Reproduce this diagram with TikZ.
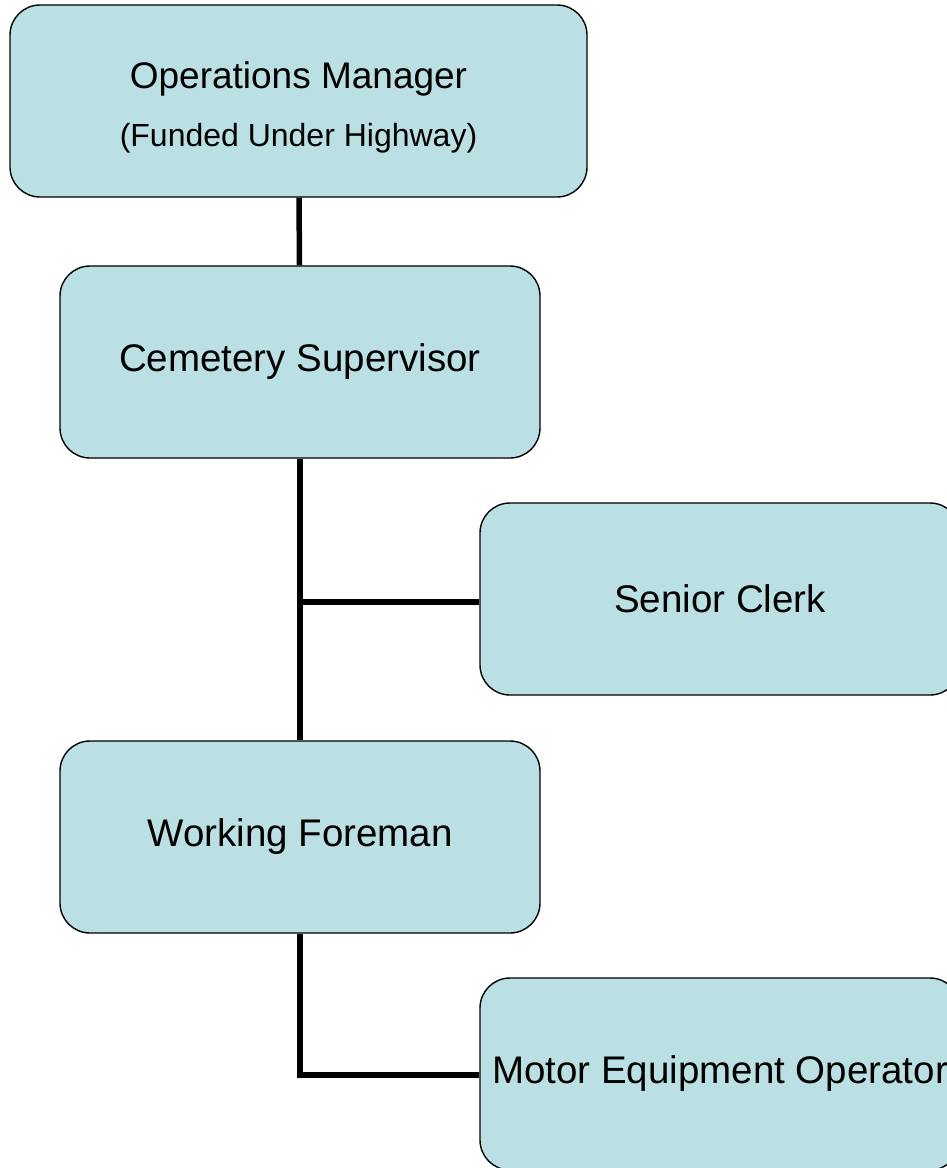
\documentclass[tikz,border=0pt]{standalone}
\usepackage{fontspec}
\setmainfont{Liberation Sans}
\usetikzlibrary{positioning}
\definecolor{boxfill}{RGB}{187,224,227}

\begin{document}
\begin{tikzpicture}[
    x=1pt, y=-1pt,
    post/.style={rectangle, rounded corners=30pt, fill=boxfill, draw=black, line width=1.4pt,
        minimum width=480pt, minimum height=192pt, inner sep=0pt, align=center,
        font=\fontsize{38.5}{46}\selectfont},
    link/.style={line width=5.5pt, draw=black}
]
    \useasboundingbox (0,0) rectangle (947,1168);

    % --- BOXES ---
    \node[post, minimum width=577pt, font=\fontsize{37}{44}\selectfont] (ops) at (298.5, 101)
        {\rule{0pt}{40pt}Operations Manager\\[14pt]{\fontsize{32}{38}\selectfont (Funded Under Highway)}};
    \node[post] (sup) at (300, 362) {Cemetery Supervisor};
    \node[post] (clerk) at (720, 599) {Senior Clerk};
    \node[post] (fore) at (300, 837) {Working Foreman};
    \node[post] (motor) at (720, 1074) {Motor Equipment Operator};

    % --- CONNECTORS ---
    \coordinate (j1) at (300, 602);
    \coordinate (j2) at (300, 1075);
    \draw[link] (ops) -- (sup);
    \draw[link] (sup) -- (fore);
    \draw[link] (j1) -- (j1 -| clerk.west);
    \draw[link, line join=miter] (fore.south) -- (j2) -- (j2 -| motor.west);
\end{tikzpicture}
\end{document}
